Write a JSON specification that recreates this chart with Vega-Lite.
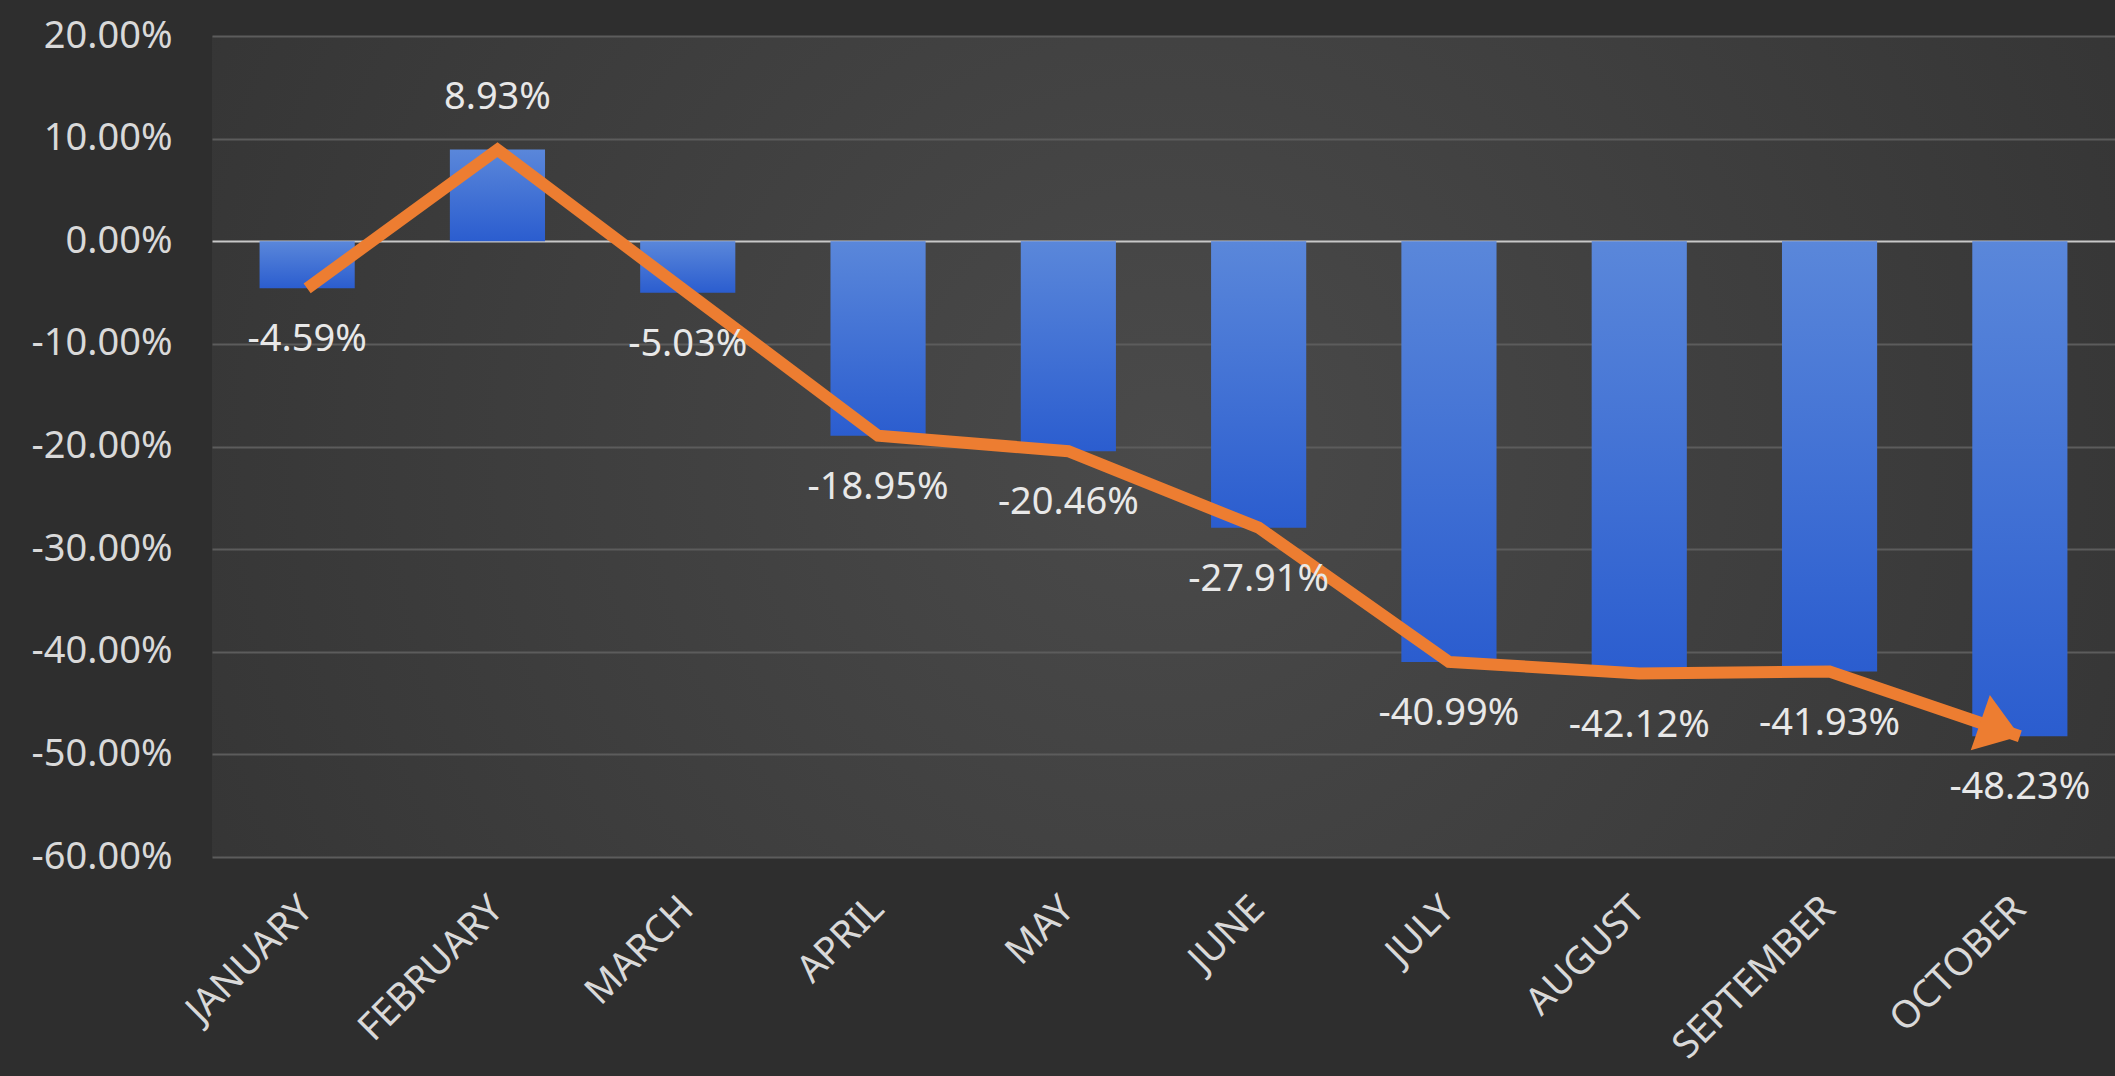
{
  "$schema": "https://vega.github.io/schema/vega-lite/v6.json",
  "autosize": "none",
  "width": 1903,
  "height": 821,
  "padding": {"left": 212, "top": 36, "right": 0, "bottom": 219},
  "background": "#2e2e2e",
  "config": {
    "locale": {"number": {"decimal": ".", "thousands": ",", "grouping": [3], "currency": ["$", ""], "minus": "-"}},
    "view": {"stroke": null, "fill": {"gradient": "radial", "x1": 0.5, "y1": 0.5, "r1": 0, "x2": 0.5, "y2": 0.5, "r2": 0.75, "stops": [{"offset": 0, "color": "#4a4a4a"}, {"offset": 1, "color": "#2e2e2e"}]}},
    "font": "Noto Sans"
  },
  "data": {
    "values": [
      {"month": "JANUARY", "value": -0.0459},
      {"month": "FEBRUARY", "value": 0.0893},
      {"month": "MARCH", "value": -0.0503},
      {"month": "APRIL", "value": -0.1895},
      {"month": "MAY", "value": -0.2046},
      {"month": "JUNE", "value": -0.2791},
      {"month": "JULY", "value": -0.4099},
      {"month": "AUGUST", "value": -0.4212},
      {"month": "SEPTEMBER", "value": -0.4193},
      {"month": "OCTOBER", "value": -0.4823}
    ]
  },
  "encoding": {
    "x": {
      "field": "month", "type": "nominal", "sort": null,
      "scale": {"paddingInner": 0.5, "paddingOuter": 0.25},
      "axis": {"title": null, "labelAngle": -45, "labelAlign": "right", "labelBaseline": "middle", "labelColor": "#d9d9d9", "labelFontSize": 38, "labelPadding": 46, "labelLimit": 0, "labelOverlap": false, "ticks": false, "domain": false, "grid": false}
    },
    "y": {
      "field": "value", "type": "quantitative",
      "scale": {"domain": [-0.6, 0.2], "nice": false, "zero": false},
      "axis": {"title": null, "format": ".2%", "values": [-0.6, -0.5, -0.4, -0.3, -0.2, -0.1, 0, 0.1, 0.2], "labelColor": "#d9d9d9", "labelFontSize": 38, "labelPadding": 40, "ticks": false, "domain": false, "gridColor": {"condition": {"test": "datum.value === 0", "value": "#c8c8c8"}, "value": "#5c5c5c"}, "gridWidth": 2}
    }
  },
  "layer": [
    {
      "mark": {"type": "bar", "color": {"gradient": "linear", "x1": 0, "y1": 0, "x2": 0, "y2": 1, "stops": [{"offset": 0, "color": "#5a87da"}, {"offset": 1, "color": "#2b5dcf"}]}},
      "encoding": {"y2": {"datum": 0}}
    },
    {
      "mark": {"type": "line", "color": "#ed7d31", "strokeWidth": 12, "strokeJoin": "miter", "strokeCap": "butt"}
    },
    {
      "transform": [{"filter": "datum.month === 'OCTOBER'"}],
      "mark": {"type": "point", "shape": "M0,0 L-1,-0.7 L-1,0.7 Z", "filled": true, "color": "#ed7d31", "opacity": 1, "size": 7000, "angle": 19}
    },
    {
      "transform": [{"filter": "datum.value < 0"}],
      "mark": {"type": "text", "color": "#e8e8e8", "fontSize": 38, "baseline": "middle", "dy": 52},
      "encoding": {"text": {"field": "value", "type": "quantitative", "format": ".2%"}}
    },
    {
      "transform": [{"filter": "datum.value >= 0"}],
      "mark": {"type": "text", "color": "#e8e8e8", "fontSize": 38, "baseline": "middle", "dy": -52},
      "encoding": {"text": {"field": "value", "type": "quantitative", "format": ".2%"}}
    }
  ]
}
